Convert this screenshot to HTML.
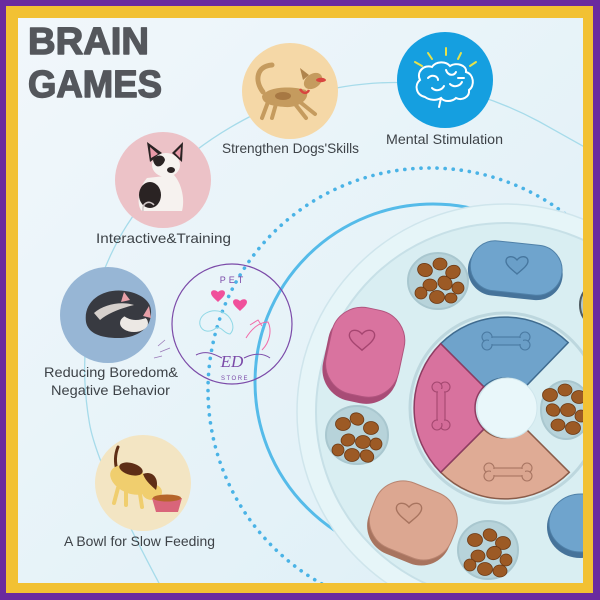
<!DOCTYPE html>
<html><head><meta charset="utf-8">
<style>html,body{margin:0;padding:0;width:600px;height:600px;overflow:hidden;background:#6a2b9f}svg{display:block}</style>
</head>
<body>
<svg width="600" height="600" viewBox="0 0 600 600" xmlns="http://www.w3.org/2000/svg">
<defs>
<linearGradient id="bg" x1="0" y1="0" x2="1" y2="1"><stop offset="0" stop-color="#f1f7fb"/><stop offset="1" stop-color="#ddeff6"/></linearGradient>
<clipPath id="cl"><rect x="18" y="18" width="565" height="565"/></clipPath>
</defs>
<rect width="600" height="600" fill="#6a2b9f"/>
<rect x="6" y="6" width="587" height="587" fill="#f2c133"/>
<g clip-path="url(#cl)">
<rect x="18" y="18" width="565" height="565" fill="url(#bg)"/>

<!-- thin connector line -->
<path d="M160,585 Q97,467 89.5,423.5 Q82,380 86,340 Q90,300 110,256.5 Q130,213 163.5,179 Q197,145 243.5,120 Q290,95 345,86.5 Q400,78 446.5,87.5 Q493,97 539,121.5 L590,150" fill="none" stroke="#a6dbea" stroke-width="1.3"/>

<!-- dotted circle -->
<circle cx="430" cy="390" r="222" fill="none" stroke="#4ab3e6" stroke-width="3.6" stroke-linecap="round" stroke-dasharray="0.1 8"/>

<!-- solid arc -->
<circle cx="433" cy="382" r="178" fill="none" stroke="#55bbe9" stroke-width="3"/>

<!-- logo watermark -->
<g fill="none">
<circle cx="232" cy="324" r="60" stroke="#7b4aa8" stroke-width="1.2"/>
<text x="233" y="283" font-family="Liberation Sans, sans-serif" font-size="9" fill="#7b4aa8" text-anchor="middle" letter-spacing="3">PET</text>
<path d="M218,302 C215,299 211,296 211,293 C211,290 215,289 218,292 C221,289 225,290 225,293 C225,296 221,299 218,302 Z" fill="#f0509b"/>
<path d="M240,311 C237,308 233,305 233,302 C233,299 237,298 240,301 C243,298 247,299 247,302 C247,305 243,308 240,311 Z" fill="#f0509b"/>
<path d="M200,325 C198,315 210,308 222,312 C232,316 236,328 230,334 C224,334 222,326 216,328 C210,333 202,332 200,325 Z" stroke="#8fd8e6" stroke-width="1"/>
<path d="M246,338 C252,328 260,322 268,322 C272,330 270,342 262,350 M250,325 L258,320 L262,326" stroke="#f26aa8" stroke-width="1"/>
<path d="M196,355 C206,350 214,354 222,358 M244,358 C252,354 262,352 270,358" stroke="#7b4aa8" stroke-width="1"/>
<path d="M170,348 L160,352 M165,340 L158,346 M162,356 L154,358" stroke="#9a7ab8" stroke-width="0.8"/>
<text x="232" y="367" font-family="Liberation Serif, serif" font-style="italic" font-size="17" fill="#7b4aa8" text-anchor="middle">ED</text>
<text x="235" y="380" font-family="Liberation Sans, sans-serif" font-size="6" fill="#7b4aa8" text-anchor="middle" letter-spacing="1.5">STORE</text>
</g>

<!-- toy disc -->
<circle cx="505" cy="412" r="208" fill="#e6f5f8" stroke="#cfe5ec" stroke-width="1.5"/>
<circle cx="505" cy="412" r="189" fill="#d9eef2"/>
<circle cx="505" cy="412" r="189" fill="none" stroke="#c7e0e7" stroke-width="2"/>

<!-- partial gray item top right -->
<ellipse cx="592" cy="305" rx="12" ry="18" fill="#b3c6cc" stroke="#4e5a60" stroke-width="2"/>

<!-- cavities -->
<ellipse cx="438" cy="281" rx="30" ry="28" fill="#b7d3da" stroke="#a9c7cf" stroke-width="2"/>
<ellipse cx="357" cy="435" rx="31" ry="29" fill="#b7d3da" stroke="#a9c7cf" stroke-width="2"/>
<ellipse cx="488" cy="550" rx="30" ry="29" fill="#b7d3da" stroke="#a9c7cf" stroke-width="2"/>
<ellipse cx="566" cy="410" rx="25" ry="29" fill="#b7d3da" stroke="#a9c7cf" stroke-width="2"/>

<!-- kibble -->
<g fill="#9c5a25" stroke="#6b3813" stroke-width="0.8">
<ellipse cx="425" cy="270" rx="7.5" ry="6.5" transform="rotate(20 425 270)"/>
<ellipse cx="440" cy="264" rx="7" ry="6"/>
<ellipse cx="453" cy="272" rx="7.5" ry="6.5" transform="rotate(-30 453 272)"/>
<ellipse cx="430" cy="285" rx="7" ry="6"/>
<ellipse cx="445" cy="283" rx="7.5" ry="6.5" transform="rotate(40 445 283)"/>
<ellipse cx="458" cy="288" rx="6" ry="6"/>
<ellipse cx="437" cy="297" rx="7.5" ry="6.5"/>
<ellipse cx="451" cy="298" rx="6" ry="5"/>
<ellipse cx="421" cy="293" rx="6" ry="6"/>

<ellipse cx="343" cy="424" rx="7.5" ry="6.5"/>
<ellipse cx="357" cy="419" rx="7" ry="6" transform="rotate(25 357 419)"/>
<ellipse cx="371" cy="428" rx="7.5" ry="6.5"/>
<ellipse cx="348" cy="440" rx="7" ry="6" transform="rotate(-20 348 440)"/>
<ellipse cx="363" cy="442" rx="7.5" ry="6.5"/>
<ellipse cx="376" cy="444" rx="6" ry="6"/>
<ellipse cx="352" cy="455" rx="7.5" ry="6.5"/>
<ellipse cx="367" cy="456" rx="7" ry="6" transform="rotate(30 367 456)"/>
<ellipse cx="338" cy="450" rx="6" ry="6"/>

<ellipse cx="475" cy="540" rx="7.5" ry="6.5"/>
<ellipse cx="490" cy="535" rx="7" ry="6" transform="rotate(25 490 535)"/>
<ellipse cx="503" cy="543" rx="7.5" ry="6.5"/>
<ellipse cx="478" cy="556" rx="7" ry="6"/>
<ellipse cx="494" cy="553" rx="7.5" ry="6.5" transform="rotate(-25 494 553)"/>
<ellipse cx="506" cy="560" rx="6" ry="6"/>
<ellipse cx="485" cy="569" rx="7.5" ry="6.5"/>
<ellipse cx="500" cy="571" rx="7" ry="6"/>
<ellipse cx="470" cy="565" rx="6" ry="6"/>

<ellipse cx="550" cy="395" rx="7.5" ry="6.5"/>
<ellipse cx="565" cy="390" rx="7" ry="6"/>
<ellipse cx="579" cy="397" rx="7.5" ry="6.5"/>
<ellipse cx="553" cy="410" rx="7" ry="6" transform="rotate(30 553 410)"/>
<ellipse cx="568" cy="410" rx="7.5" ry="6.5"/>
<ellipse cx="581" cy="416" rx="6" ry="6"/>
<ellipse cx="558" cy="425" rx="7" ry="6"/>
<ellipse cx="573" cy="428" rx="7.5" ry="6.5"/>
</g>

<!-- blue top slider -->
<g transform="rotate(6 516 270)">
<rect x="468" y="246" width="95" height="52" rx="26" fill="#46739a"/>
<rect x="470" y="243" width="92" height="50" rx="25" fill="#6fa4cd" stroke="#4f80a8" stroke-width="1"/>
</g>
<path d="M0,8 C-3,5 -11,0 -11,-5 C-11,-10 -4,-11 0,-6 C4,-11 11,-10 11,-5 C11,0 3,5 0,8 Z" transform="translate(517,266)" fill="#6a9fc8" stroke="#47779f" stroke-width="1.4"/>

<!-- pink slider -->
<g transform="rotate(12 364 353)">
<rect x="326" y="313" width="76" height="90" rx="32" fill="#a84c76"/>
<rect x="328" y="308" width="74" height="88" rx="31" fill="#d9739f" stroke="#b0547e" stroke-width="1"/>
</g>
<path d="M0,8 C-3,5 -11,0 -11,-5 C-11,-10 -4,-11 0,-6 C4,-11 11,-10 11,-5 C11,0 3,5 0,8 Z" transform="translate(362,341) scale(1.15)" fill="#d56f9b" stroke="#a54570" stroke-width="1.2"/>

<!-- tan slider -->
<g transform="rotate(22 412 521)">
<rect x="370" y="489" width="86" height="72" rx="30" fill="#a8745f"/>
<rect x="370" y="485" width="86" height="70" rx="30" fill="#dca791" stroke="#b88470" stroke-width="1"/>
</g>
<path d="M0,8 C-3,5 -11,0 -11,-5 C-11,-10 -4,-11 0,-6 C4,-11 11,-10 11,-5 C11,0 3,5 0,8 Z" transform="translate(409,514) scale(1.15)" fill="#d8a38d" stroke="#a8745f" stroke-width="1.2"/>

<!-- blue bottom right partial -->
<ellipse cx="580" cy="527" rx="33" ry="31" fill="#46739a"/>
<ellipse cx="581" cy="523" rx="32" ry="29" fill="#6fa4cd" stroke="#4f80a8" stroke-width="1"/>

<!-- center ring -->
<circle cx="505" cy="408" r="95" fill="none" stroke="#bdd7de" stroke-width="3"/>
<path d="M440.7,343.7 A91,91 0 0 1 568.2,342.6 L525.8,386.4 A30,30 0 0 0 483.8,386.8 Z" fill="#6fa3cb" stroke="#3f6b8f" stroke-width="1.5"/>
<path d="M569.3,472.3 A91,91 0 0 1 440.7,472.3 L483.8,429.2 A30,30 0 0 0 526.2,429.2 Z" fill="#dfab95" stroke="#8a5c4a" stroke-width="1.5"/>
<path d="M440.7,472.3 A91,91 0 0 1 440.7,343.7 L483.8,386.8 A30,30 0 0 0 483.8,429.2 Z" fill="#d8729e" stroke="#8e3c62" stroke-width="1.5"/>
<circle cx="507" cy="408" r="30" fill="#e9f7fa" stroke="#cfe6ec" stroke-width="1"/>

<!-- bones -->
<g transform="translate(506,341)" fill="#6a9ec7" stroke="#4a7aa2" stroke-width="1.1">
<rect x="-17" y="-4" width="34" height="8"/>
<circle cx="-19" cy="-4" r="5"/><circle cx="-19" cy="4" r="5"/><circle cx="19" cy="-4" r="5"/><circle cx="19" cy="4" r="5"/>
<rect x="-17" y="-3" width="34" height="6" stroke="none"/>
</g>
<g transform="translate(441,406) rotate(90)" fill="#d46c99" stroke="#a44870" stroke-width="1.1">
<rect x="-17" y="-4" width="34" height="8"/>
<circle cx="-19" cy="-4" r="5"/><circle cx="-19" cy="4" r="5"/><circle cx="19" cy="-4" r="5"/><circle cx="19" cy="4" r="5"/>
<rect x="-17" y="-3" width="34" height="6" stroke="none"/>
</g>
<g transform="translate(508,472)" fill="#dba690" stroke="#a87562" stroke-width="1.1">
<rect x="-17" y="-4" width="34" height="8"/>
<circle cx="-19" cy="-4" r="5"/><circle cx="-19" cy="4" r="5"/><circle cx="19" cy="-4" r="5"/><circle cx="19" cy="4" r="5"/>
<rect x="-17" y="-3" width="34" height="6" stroke="none"/>
</g>

<!-- circle: Strengthen -->
<circle cx="290" cy="91" r="48" fill="#f5d8a7"/>
<path d="M263,92 C254,80 257,66 272,65" fill="none" stroke="#c59b5e" stroke-width="5" stroke-linecap="round"/>
<path d="M262,96 C268,86 292,86 306,90 C311,98 300,108 285,107 C272,106 262,104 262,96 Z" fill="#c59b5e"/>
<ellipse cx="283" cy="96" rx="8" ry="4" fill="#a77843"/>
<ellipse cx="313" cy="81" rx="10" ry="7" transform="rotate(-35 313 81)" fill="#c59b5e"/>
<path d="M303,80 L300,68 L309,75 Z" fill="#b0844c"/>
<ellipse cx="321" cy="80" rx="5" ry="2.2" fill="#d8453f"/>
<path d="M300,89 C303,94 307,94 309,90" fill="none" stroke="#d8453f" stroke-width="2.5"/>
<g stroke="#c59b5e" stroke-width="4" stroke-linecap="round">
<line x1="300" y1="102" x2="315" y2="114"/><line x1="295" y1="104" x2="306" y2="118"/>
<line x1="268" y1="102" x2="262" y2="118"/><line x1="276" y1="104" x2="272" y2="118"/>
</g>

<!-- circle: Mental -->
<circle cx="445" cy="80" r="48" fill="#159fe0"/>
<g stroke="#e6e24a" stroke-width="2" stroke-linecap="round">
<line x1="415" y1="62" x2="422" y2="66"/><line x1="428" y1="53" x2="432" y2="59"/><line x1="446" y1="48" x2="446" y2="55"/><line x1="461" y1="53" x2="458" y2="59"/><line x1="476" y1="62" x2="470" y2="66"/>
</g>
<g fill="none" stroke="#ffffff" stroke-width="2" stroke-linecap="round">
<path d="M425,97 C416,95 414,85 420,80 C416,72 424,64 432,67 C436,61 446,61 450,66 C456,62 467,65 466,72 C474,74 475,86 469,90 C470,97 462,101 456,98 C452,102 444,102 441,98 C436,101 429,100 425,97 Z"/>
<path d="M441,98 L439,107"/>
<path d="M428,78 C432,74 438,76 438,80 M446,70 C448,76 454,76 456,72 M450,84 C454,88 460,86 462,82 M432,88 C436,92 442,90 444,86 M458,78 L464,78"/>
</g>

<!-- circle: Interactive -->
<circle cx="163" cy="180" r="48" fill="#ecc2c7"/>
<path d="M150,162 L147,142 L162,153 Z" fill="#2a2323"/><path d="M151,158 L150,147 L158,154 Z" fill="#e89aa8"/>
<path d="M172,153 L183,142 L182,162 Z" fill="#2a2323"/><path d="M175,153 L181,147 L180,158 Z" fill="#e89aa8"/>
<path d="M147,178 C138,188 136,206 142,211 L182,211 C185,200 182,184 174,175 Z" fill="#f6f2ef"/>
<ellipse cx="166" cy="165" rx="14" ry="12" fill="#f6f2ef"/>
<path d="M153,160 C156,154 164,154 165,160 C163,167 155,170 153,160 Z" fill="#2a2323"/>
<ellipse cx="171" cy="170" rx="4" ry="3" fill="#2a2323"/>
<ellipse cx="150" cy="195" rx="11" ry="13" fill="#2a2323"/>
<path d="M143,211 C142,202 150,200 154,205" fill="none" stroke="#cfc6c6" stroke-width="1.5"/>

<!-- circle: Reducing -->
<circle cx="108" cy="315" r="48" fill="#97b6d5"/>
<path d="M86,322 C83,300 104,288 125,291 C140,293 151,301 151,311 C152,326 140,338 118,338 C100,338 88,333 86,322 Z" fill="#383a41"/>
<path d="M94,313 C104,304 122,301 134,305 C122,308 108,313 100,320 Z" fill="#d6d0cc"/>
<ellipse cx="134" cy="323" rx="14" ry="9" fill="#ece8e4"/>
<path d="M124,316 C130,312 140,312 146,318 C140,320 132,322 124,316 Z" fill="#383a41"/>
<path d="M121,302 L124,292 L130,300 Z" fill="#e8a0a8"/>
<path d="M143,316 L149,306 L151,318 Z" fill="#e8a0a8"/>

<!-- circle: Bowl -->
<circle cx="143" cy="483" r="48" fill="#f3e5c3"/>
<path d="M117,470 C114,460 116,452 118,447" fill="none" stroke="#5e2e16" stroke-width="3" stroke-linecap="round"/>
<ellipse cx="130" cy="480" rx="21" ry="13" transform="rotate(25 130 480)" fill="#f0ce6e"/>
<ellipse cx="152" cy="492" rx="10" ry="8" fill="#f0ce6e"/>
<ellipse cx="131" cy="469" rx="12" ry="6" transform="rotate(15 131 469)" fill="#5e2e16"/>
<path d="M143,474 C152,470 160,478 156,490 C152,486 146,482 143,474 Z" fill="#5e2e16"/>
<g stroke="#f0ce6e" stroke-width="4" stroke-linecap="round">
<line x1="118" y1="488" x2="114" y2="503"/><line x1="126" y1="492" x2="126" y2="505"/><line x1="140" y1="494" x2="142" y2="507"/>
</g>
<path d="M152,498 L182,498 L178,512 L156,512 Z" fill="#d9657a"/>
<ellipse cx="167" cy="498" rx="14" ry="3.5" fill="#b5652b"/>

<!-- title -->
<g font-family="Liberation Sans, sans-serif" font-weight="bold" fill="#54575c" stroke="#54575c" stroke-width="1.4" stroke-linejoin="round">
<text x="28" y="54" font-size="38" textLength="121" lengthAdjust="spacingAndGlyphs">BRAIN</text>
<text x="28" y="97" font-size="38" textLength="134" lengthAdjust="spacingAndGlyphs">GAMES</text>
</g>

<!-- labels -->
<g font-family="Liberation Sans, sans-serif" font-size="14" fill="#3d4247">
<text x="222" y="153" textLength="137" lengthAdjust="spacingAndGlyphs">Strengthen Dogs'Skills</text>
<text x="386" y="144" textLength="117" lengthAdjust="spacingAndGlyphs">Mental Stimulation</text>
<text x="96" y="243" textLength="135" lengthAdjust="spacingAndGlyphs">Interactive&amp;Training</text>
<text x="44" y="377" textLength="134" lengthAdjust="spacingAndGlyphs">Reducing Boredom&amp;</text>
<text x="51" y="395" textLength="119" lengthAdjust="spacingAndGlyphs">Negative Behavior</text>
<text x="64" y="546" textLength="151" lengthAdjust="spacingAndGlyphs">A Bowl for Slow Feeding</text>
</g>
</g>
</svg>
</body></html>
